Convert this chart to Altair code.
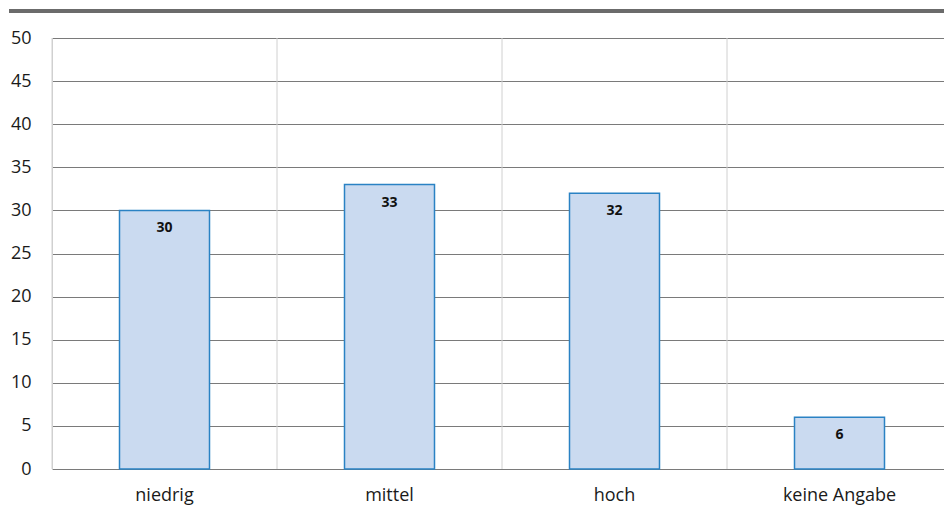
import altair as alt
import pandas as pd

categories = ["niedrig", "mittel", "hoch", "keine Angabe"]
values = [30, 33, 32, 6]
y_ticks = [0, 5, 10, 15, 20, 25, 30, 35, 40, 45, 50]

df = pd.DataFrame({"kategorie": categories, "wert": values})

FONT = "Open Sans"

x_scale = alt.Scale(domain=categories, range=[0, 900], paddingInner=0, paddingOuter=0)
y_scale = alt.Scale(domain=[0, 50], nice=False)

x_axis = alt.Axis(
    labelAngle=0,
    ticks=False,
    domain=False,
    grid=False,
    labelPadding=17,
    labelFont=FONT,
    labelFontSize=18,
    labelColor="#1a1a1a",
)

y_axis = alt.Axis(
    values=y_ticks,
    ticks=False,
    grid=True,
    gridColor="#7a7a7a",
    gridWidth=1,
    domain=True,
    domainColor="#d0d0d0",
    labelPadding=21,
    labelFont=FONT,
    labelFontSize=18,
    labelColor="#1a1a1a",
)

base = alt.Chart(df)

# light vertical separators at the category boundaries
separators = base.mark_rule(color="#d0d0d0", strokeWidth=1).encode(
    x=alt.X("kategorie:N", scale=x_scale, bandPosition=0, sort=categories,
            title=None, axis=x_axis),
)

bars = base.mark_bar(
    width=alt.RelativeBandSize(0.4),
    color="#cadaf0",
    stroke="#2a82c4",
    strokeWidth=1.5,
).encode(
    x=alt.X("kategorie:N", scale=x_scale, sort=categories, title=None, axis=x_axis),
    y=alt.Y("wert:Q", scale=y_scale, title=None, axis=y_axis),
)

labels = base.mark_text(
    baseline="top",
    dy=11,
    font=FONT,
    fontSize=14,
    fontWeight="bold",
    color="#111111",
).encode(
    x=alt.X("kategorie:N", scale=x_scale, sort=categories),
    y=alt.Y("wert:Q", scale=y_scale),
    text=alt.Text("wert:Q"),
)

# dark header band above the plot
header = alt.Chart(pd.DataFrame({"k": [0]})).mark_rule(
    color="#6b6b6b", strokeWidth=4
).encode(
    x=alt.value(-43),
    x2=alt.value(892),
    y=alt.value(-27),
)

chart = (
    alt.layer(separators, bars, labels, header)
    .properties(
        width=892,
        height=431,
        autosize=alt.AutoSizeParams(type="none"),
        padding={"left": 52, "top": 38, "right": 0, "bottom": 47},
        background="white",
    )
    .configure_view(stroke=None)
)

chart.save("out.html", embed_options={"renderer": "svg", "actions": False})
